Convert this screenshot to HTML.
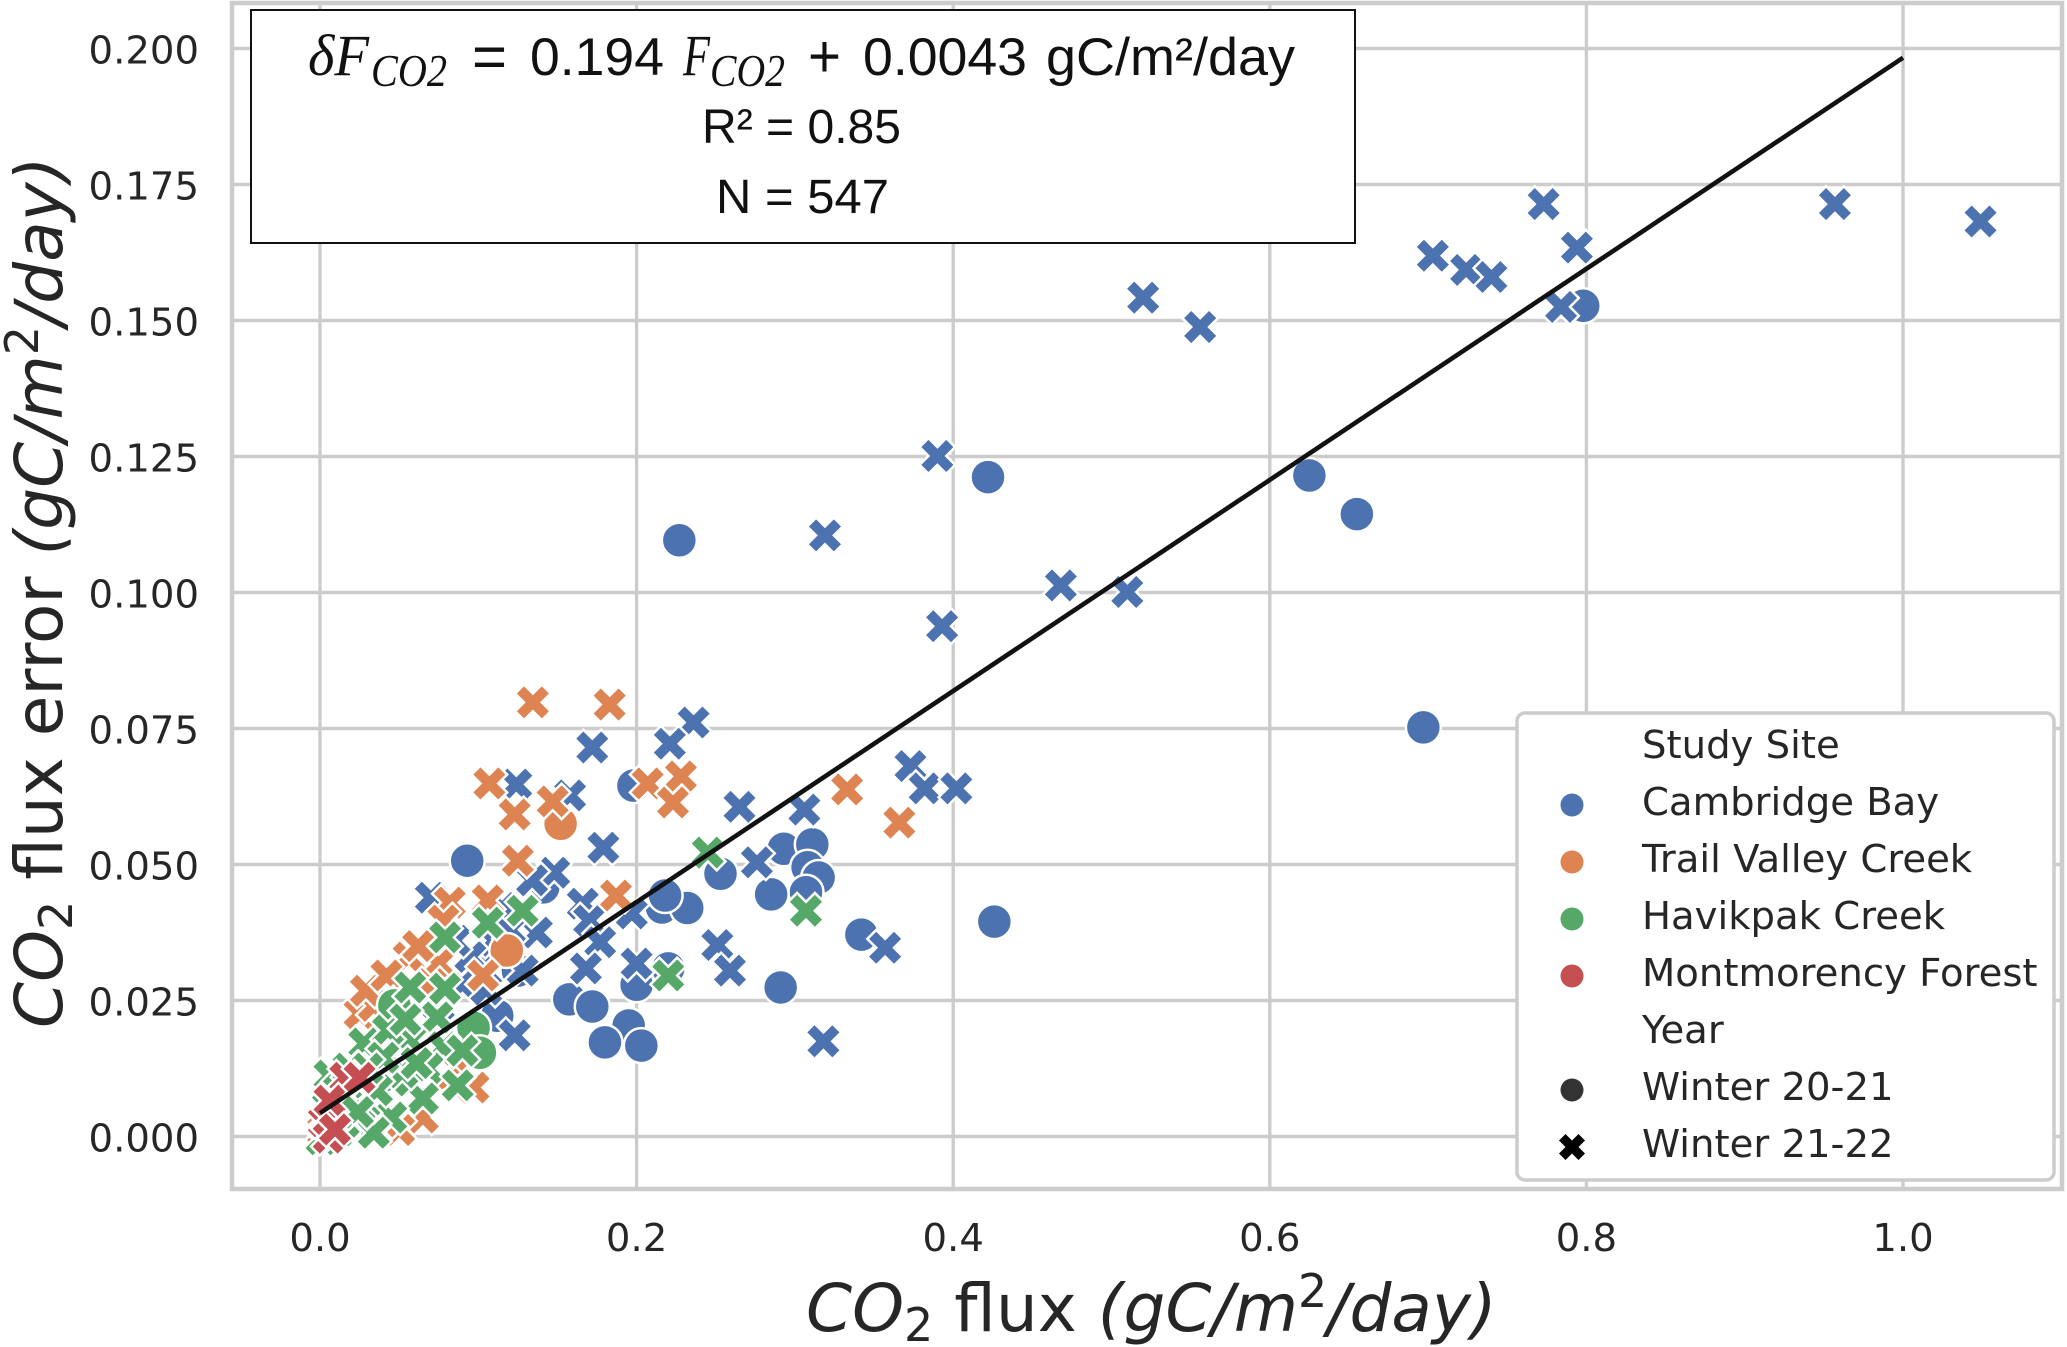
<!DOCTYPE html>
<html>
<head>
<meta charset="utf-8">
<style>
html,body{margin:0;padding:0;background:#fff;}
svg{display:block;}
text{font-family:"DejaVu Sans",sans-serif;fill:#262626;}
.box-text{font-family:"Liberation Sans",sans-serif;fill:#111;}
.math{font-family:"Liberation Serif",serif;font-style:italic;fill:#111;}
</style>
</head>
<body>
<svg id="chart" xmlns="http://www.w3.org/2000/svg" width="2067" height="1347" viewBox="0 0 2067 1347">
  <g id="grid"></g>
  <rect x="232" y="3" width="1830" height="1186" fill="none" stroke="#cccccc" stroke-width="4.5"/>
  <g id="marks"></g>
  <g id="fit"></g>
  <g id="ticks"></g>

  <text x="806" y="1331" font-size="66"><tspan font-style="italic">CO</tspan><tspan font-size="46" dy="10">2</tspan><tspan dy="-10"> flux </tspan><tspan font-style="italic">(gC/m</tspan><tspan font-size="46" font-style="normal" dy="-24">2</tspan><tspan font-style="italic" dy="24">/day)</tspan></text>
  <text transform="translate(62,1028) rotate(-90)" font-size="66"><tspan font-style="italic">CO</tspan><tspan font-size="46" dy="10">2</tspan><tspan dy="-10"> flux error </tspan><tspan font-style="italic">(gC/m</tspan><tspan font-size="46" font-style="normal" dy="-24">2</tspan><tspan font-style="italic" dy="24">/day)</tspan></text>

  <g>
    <rect x="251" y="10" width="1104" height="233" fill="#fff" stroke="#111" stroke-width="2"/>
    <text class="math" x="308" y="75" font-size="58" textLength="61" lengthAdjust="spacingAndGlyphs">δF</text>
    <text class="math" x="371" y="86" font-size="46" textLength="76" lengthAdjust="spacingAndGlyphs">CO2</text>
    <text class="box-text" x="472" y="77" font-size="60" textLength="35" lengthAdjust="spacingAndGlyphs">=</text>
    <text class="box-text" x="530" y="75" font-size="53" textLength="134" lengthAdjust="spacingAndGlyphs">0.194</text>
    <text class="math" x="683" y="75" font-size="58" textLength="27" lengthAdjust="spacingAndGlyphs">F</text>
    <text class="math" x="710" y="86" font-size="46" textLength="75" lengthAdjust="spacingAndGlyphs">CO2</text>
    <text class="box-text" x="808" y="77" font-size="60" textLength="33" lengthAdjust="spacingAndGlyphs">+</text>
    <text class="box-text" x="863" y="75" font-size="53" textLength="164" lengthAdjust="spacingAndGlyphs">0.0043</text>
    <text class="box-text" x="1046" y="75" font-size="53" textLength="249" lengthAdjust="spacingAndGlyphs">gC/m²/day</text>
    <text class="box-text" x="702" y="143" font-size="48" textLength="199" lengthAdjust="spacingAndGlyphs">R² = 0.85</text>
    <text class="box-text" x="716" y="213" font-size="48" textLength="173" lengthAdjust="spacingAndGlyphs">N = 547</text>
  </g>

  <g>
    <rect x="1517" y="713" width="537" height="467" rx="8" fill="#fff" stroke="#cccccc" stroke-width="3.5"/>
    <text x="1642" y="758" font-size="38.6">Study Site</text>
    <circle cx="1572" cy="805" r="11.5" fill="#4c72b0"/>
    <text x="1642" y="815" font-size="38.6">Cambridge Bay</text>
    <circle cx="1572" cy="862" r="11.5" fill="#dd8452"/>
    <text x="1642" y="872" font-size="38.6">Trail Valley Creek</text>
    <circle cx="1572" cy="919" r="11.5" fill="#55a868"/>
    <text x="1642" y="929" font-size="38.6">Havikpak Creek</text>
    <circle cx="1572" cy="976" r="11.5" fill="#c44e52"/>
    <text x="1642" y="986" font-size="38.6">Montmorency Forest</text>
    <text x="1642" y="1043" font-size="38.6">Year</text>
    <circle cx="1572" cy="1090" r="11.5" fill="#333333"/>
    <text x="1642" y="1100" font-size="38.6">Winter 20-21</text>
    <polygon points="1565.5,1160 1572,1153.5 1578.5,1160 1585,1153.5 1578.5,1147 1585,1140.5 1578.5,1134 1572,1140.5 1565.5,1134 1559,1140.5 1565.5,1147 1559,1153.5" fill="#000"/>
    <text x="1642" y="1157" font-size="38.6">Winter 21-22</text>
  </g>
</svg>
<script>
const xTicks = ["0.0", "0.2", "0.4", "0.6", "0.8", "1.0"];
const yTicks = ["0.000", "0.025", "0.050", "0.075", "0.100", "0.125", "0.150", "0.175", "0.200"];
const fitX = [0, 1];
const fitY = [0.0043, 0.1983];

const cambridgeW20X = [0.227,0.422,0.625,0.655,0.798,0.697,0.426,0.093,0.198,0.253,0.293,0.311,0.308,0.315,0.307,0.285,0.342,0.291,0.216,0.232,0.218,0.2,0.22,0.1575,0.172,0.195,0.18,0.203,0.112,0.141,0.1,0.125];
const cambridgeW20Y = [0.1096,0.1212,0.1215,0.1144,0.1527,0.0752,0.0395,0.0507,0.0645,0.0483,0.0529,0.0537,0.0495,0.0476,0.0449,0.0445,0.0371,0.0274,0.0421,0.042,0.0443,0.0279,0.0309,0.0252,0.0239,0.0204,0.0173,0.0167,0.0222,0.0458,0.0295,0.0305];

const cambridgeW21X = [1.049,0.957,0.773,0.794,0.703,0.724,0.74,0.784,0.52,0.556,0.39,0.319,0.468,0.51,0.393,0.373,0.382,0.402,0.265,0.306,0.276,0.251,0.236,0.221,0.172,0.124,0.158,0.179,0.148,0.134,0.166,0.17,0.197,0.137,0.177,0.168,0.2,0.259,0.357,0.318,0.123,0.128,0.07,0.1,0.11,0.09,0.095,0.105,0.12,0.085,0.115,0.075];
const cambridgeW21Y = [0.1682,0.1714,0.1714,0.1634,0.1619,0.1593,0.158,0.1525,0.1542,0.1488,0.1251,0.1105,0.1013,0.1001,0.0938,0.0681,0.064,0.064,0.0606,0.0601,0.0504,0.0352,0.0761,0.0722,0.0715,0.0647,0.0627,0.0531,0.0485,0.0471,0.0428,0.0397,0.041,0.0375,0.0357,0.0309,0.0318,0.0305,0.0347,0.0175,0.0186,0.0305,0.0439,0.031,0.036,0.028,0.033,0.027,0.038,0.036,0.042,0.024];

const trailW20X = [0.152,0.118];
const trailW20Y = [0.0575,0.0342];

const trailW21X = [0.1345,0.183,0.107,0.123,0.147,0.207,0.228,0.223,0.333,0.366,0.125,0.187,0.082,0.106,0.103,0.075,0.056,0.025,0.034,0.029,0.042,0.078,0.065,0.05,0.04,0.097,0.087,0.002,0.005,0.012,0.02,0.03,0.052,0.07,0.062,0.078];
const trailW21Y = [0.0798,0.0794,0.0649,0.0592,0.0616,0.0649,0.0662,0.0614,0.0638,0.0577,0.0507,0.0443,0.043,0.0434,0.0296,0.0318,0.0329,0.0226,0.024,0.0268,0.0296,0.0397,0.0035,0.0012,0.0028,0.009,0.0125,0.001,0.003,0.005,0.002,0.0015,0.0245,0.028,0.035,0.0102];

const havikpakW20X = [0.047,0.097,0.101];
const havikpakW20Y = [0.0241,0.02,0.0154];

const havikpakW21X = [0.245,0.307,0.22,0.128,0.106,0.079,0.057,0.079,0.074,0.028,0.057,0.078,0.068,0.09,0.087,0.065,0.046,0.052,0.045,0.028,0.025,0.034,0.043,0.006,0.001,0.012,0.018,0.04,0.054,0.036,0.005,0.015,0.03,0.061,0.024,0.01];
const havikpakW21Y = [0.0522,0.0415,0.0296,0.0415,0.0393,0.0366,0.0274,0.0272,0.0219,0.0171,0.0176,0.0164,0.0125,0.0158,0.0094,0.007,0.0103,0.0118,0.0035,0.006,0.002,0.0007,0.0195,0.0112,-0.0005,0.0085,0.0125,0.0145,0.0215,0.0085,0.0055,0.0025,0.0125,0.0135,0.0045,0.0005];

const montmorencyW21X = [0.0025,0.0055,0.016,0.006,0.025,0.0095];
const montmorencyW21Y = [0.0028,-0.0002,0.0108,0.0066,0.0108,0.0013];

const NS = "http://www.w3.org/2000/svg";
const X0 = 320, XSPAN = 1583, Y0 = 1136.5, YSPAN = 5440;
const BLUE = "#4c72b0", ORANGE = "#dd8452", GREEN = "#55a868", RED = "#c44e52";
const CIRCLE_R = 17.5, X_UNIT = 8.9;

function xScale(v) { return X0 + XSPAN * v; }
function yScale(v) { return Y0 - YSPAN * v; }

const gridLayer = document.getElementById("grid");
const tickLayer = document.getElementById("ticks");
const markLayer = document.getElementById("marks");
const fitLayer = document.getElementById("fit");

xTicks.forEach(function (t) {
  const px = xScale(parseFloat(t));
  const line = document.createElementNS(NS, "line");
  
  
  line.setAttribute("x1", px); line.setAttribute("x2", px);
  line.setAttribute("y1", 3); line.setAttribute("y2", 1189);
  line.setAttribute("stroke", "#cccccc"); line.setAttribute("stroke-width", 3.4);
  gridLayer.appendChild(line);
  const label = document.createElementNS(NS, "text");
  
  
  label.setAttribute("x", px); label.setAttribute("y", 1251);
  label.setAttribute("text-anchor", "middle"); label.setAttribute("font-size", 38.6);
  label.textContent = t;
  tickLayer.appendChild(label);
});

yTicks.forEach(function (t) {
  const py = yScale(parseFloat(t));
  const line = document.createElementNS(NS, "line");
  
  
  line.setAttribute("x1", 232); line.setAttribute("x2", 2062);
  line.setAttribute("y1", py); line.setAttribute("y2", py);
  line.setAttribute("stroke", "#cccccc"); line.setAttribute("stroke-width", 3.4);
  gridLayer.appendChild(line);
  const label = document.createElementNS(NS, "text");
  
  
  label.setAttribute("x", 199); label.setAttribute("y", py + 15);
  label.setAttribute("text-anchor", "end"); label.setAttribute("font-size", 38.6);
  label.textContent = t;
  tickLayer.appendChild(label);
});

function drawCircles(xs, ys, color, name) {
  xs.forEach(function (v, i) {
    const c = document.createElementNS(NS, "circle");
    
    
    c.setAttribute("cx", xScale(v));
    c.setAttribute("cy", yScale(ys[i]));
    c.setAttribute("r", CIRCLE_R);
    c.setAttribute("fill", color);
    c.setAttribute("stroke", "#fff");
    c.setAttribute("stroke-width", 2.5);
    markLayer.appendChild(c);
  });
}

function drawCrosses(xs, ys, color, name) {
  const shape = [[-1,-2],[0,-1],[1,-2],[2,-1],[1,0],[2,1],[1,2],[0,1],[-1,2],[-2,1],[-1,0],[-2,-1]];
  xs.forEach(function (v, i) {
    const cx = xScale(v), cy = yScale(ys[i]);
    const p = document.createElementNS(NS, "polygon");
    
    
    p.setAttribute("points", shape.map(function (s) { return (cx + s[0] * X_UNIT) + "," + (cy + s[1] * X_UNIT); }).join(" "));
    p.setAttribute("fill", color);
    p.setAttribute("stroke", "#fff");
    p.setAttribute("stroke-width", 2.5);
    markLayer.appendChild(p);
  });
}

drawCircles(cambridgeW20X, cambridgeW20Y, BLUE, "cambridge-bay-winter-20-21-point");
drawCrosses(cambridgeW21X, cambridgeW21Y, BLUE, "cambridge-bay-winter-21-22-point");
drawCircles(trailW20X, trailW20Y, ORANGE, "trail-valley-creek-winter-20-21-point");
drawCrosses(trailW21X, trailW21Y, ORANGE, "trail-valley-creek-winter-21-22-point");
drawCircles(havikpakW20X, havikpakW20Y, GREEN, "havikpak-creek-winter-20-21-point");
drawCrosses(havikpakW21X, havikpakW21Y, GREEN, "havikpak-creek-winter-21-22-point");
drawCrosses(montmorencyW21X, montmorencyW21Y, RED, "montmorency-forest-winter-21-22-point");

const fitLine = document.createElementNS(NS, "line");


fitLine.setAttribute("x1", xScale(fitX[0]));
fitLine.setAttribute("y1", yScale(fitY[0]));
fitLine.setAttribute("x2", xScale(fitX[1]));
fitLine.setAttribute("y2", yScale(fitY[1]));
fitLine.setAttribute("stroke", "#111111");
fitLine.setAttribute("stroke-width", 4.6);
fitLayer.appendChild(fitLine);
</script>
</body>
</html>
